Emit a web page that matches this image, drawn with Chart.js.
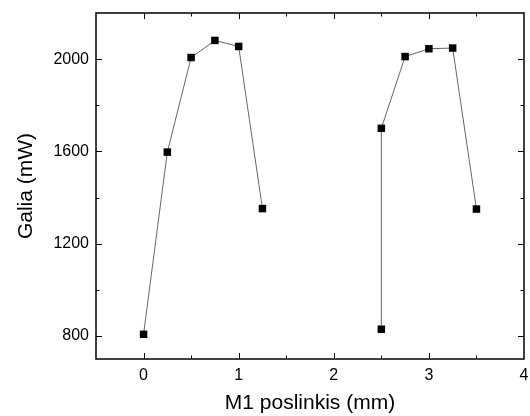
<!DOCTYPE html>
<html lang="lt">
<head>
    <meta charset="UTF-8">
    <title>Galia vs M1 poslinkis</title>
    <script src="https://cdn.jsdelivr.net/npm/chart.js"></script>
    <style>
        html, body { margin: 0; padding: 0; background: #fff; }
        #wrap { width: 530px; height: 416px; }
    </style>
</head>
<body>
    <div id="wrap"><canvas id="myChart"></canvas></div>

    <script>
        // First scan
        const posA = [0, 0.25, 0.5, 0.75, 1.0, 1.25];
        const powerA = [807, 1597, 2007, 2081, 2055, 1352];
        // Second scan (starts with the low point at 2.5)
        const posB = [2.5, 2.5, 2.75, 3.0, 3.25, 3.5];
        const powerB = [829, 1700, 2011, 2045, 2048, 1350];

        const xMajor = [0, 1, 2, 3, 4];
        const xMinor = [-0.5, 0.5, 1.5, 2.5, 3.5];
        const yMajor = [800, 1200, 1600, 2000];
        const yMinor = [1000, 1400, 1800, 2200];

        const toPoints = (xs, ys) => xs.map((x, i) => ({ x: x, y: ys[i] }));

        const seriesStyle = {
            showLine: true,
            borderColor: '#666',
            borderWidth: 1,
            backgroundColor: '#000',
            pointStyle: 'rect',
            pointRadius: 5.3,
            pointBorderWidth: 0,
            pointBackgroundColor: '#000'
        };

        // no label overhang padding, the layout padding alone places the plot box
        const noOverhang = (scale) => {
            scale.paddingTop = 0;
            scale.paddingBottom = 0;
            scale.paddingLeft = 0;
            scale.paddingRight = 0;
        };

        // inward ticks on all four sides + frame
        const frameTicks = {
            id: 'frameTicks',
            afterDraw(chart) {
                const { ctx, chartArea: a, scales: { x, y } } = chart;
                ctx.save();
                ctx.strokeStyle = '#000';
                ctx.lineWidth = 1.5;
                ctx.strokeRect(a.left, a.top, a.right - a.left, a.bottom - a.top);
                ctx.lineWidth = 1;
                ctx.beginPath();
                const tx = (v, len) => {
                    const px = Math.round(x.getPixelForValue(v)) + 0.5;
                    if (px < a.left + 1 || px > a.right - 1) return;
                    ctx.moveTo(px, a.bottom); ctx.lineTo(px, a.bottom - len);
                    ctx.moveTo(px, a.top); ctx.lineTo(px, a.top + len);
                };
                const ty = (v, len) => {
                    const py = Math.round(y.getPixelForValue(v)) + 0.5;
                    if (py < a.top + 1 || py > a.bottom - 1) return;
                    ctx.moveTo(a.left, py); ctx.lineTo(a.left + len, py);
                    ctx.moveTo(a.right, py); ctx.lineTo(a.right - len, py);
                };
                xMajor.forEach(v => tx(v, 6));
                xMinor.forEach(v => tx(v, 3.5));
                yMajor.forEach(v => ty(v, 6));
                yMinor.forEach(v => ty(v, 3.5));
                ctx.stroke();
                ctx.restore();
            }
        };

        const ctx = document.getElementById('myChart').getContext('2d');
        const myChart = new Chart(ctx, {
            type: 'scatter',
            data: {
                datasets: [
                    Object.assign({ label: 'A', data: toPoints(posA, powerA) }, seriesStyle),
                    Object.assign({ label: 'B', data: toPoints(posB, powerB) }, seriesStyle)
                ]
            },
            options: {
                responsive: true,
                maintainAspectRatio: false,
                animation: false,
                layout: { padding: { left: 0, right: 6, top: 13, bottom: 0 } },
                plugins: {
                    legend: { display: false },
                    tooltip: { enabled: false }
                },
                scales: {
                    x: {
                        type: 'linear',
                        min: -0.5,
                        max: 4,
                        afterBuildTicks: (scale) => { scale.ticks = xMajor.map(v => ({ value: v })); },
                        afterFit: (scale) => { scale.height = 57; noOverhang(scale); },
                        grid: { display: false, drawTicks: false },
                        border: { display: false },
                        ticks: {
                            color: '#000',
                            padding: 7,
                            callback: (v) => String(v),
                            font: { family: 'Liberation Sans, Arial', size: 16 }
                        },
                        title: {
                            display: true,
                            text: 'M1 poslinkis (mm)',
                            color: '#000',
                            padding: { top: 0, bottom: 0 },
                            font: { family: 'Liberation Sans, Arial', size: 21 }
                        }
                    },
                    y: {
                        type: 'linear',
                        min: 700,
                        max: 2200,
                        afterBuildTicks: (scale) => { scale.ticks = yMajor.map(v => ({ value: v })); },
                        afterFit: (scale) => { scale.width = 96; noOverhang(scale); },
                        grid: { display: false, drawTicks: false },
                        border: { display: false },
                        ticks: {
                            color: '#000',
                            padding: 7,
                            callback: (v) => String(v),
                            font: { family: 'Liberation Sans, Arial', size: 16 }
                        },
                        title: {
                            display: true,
                            text: 'Galia (mW)',
                            color: '#000',
                            padding: { top: 14, bottom: 0 },
                            font: { family: 'Liberation Sans, Arial', size: 21 }
                        }
                    }
                }
            },
            plugins: [frameTicks]
        });
    </script>
</body>
</html>
